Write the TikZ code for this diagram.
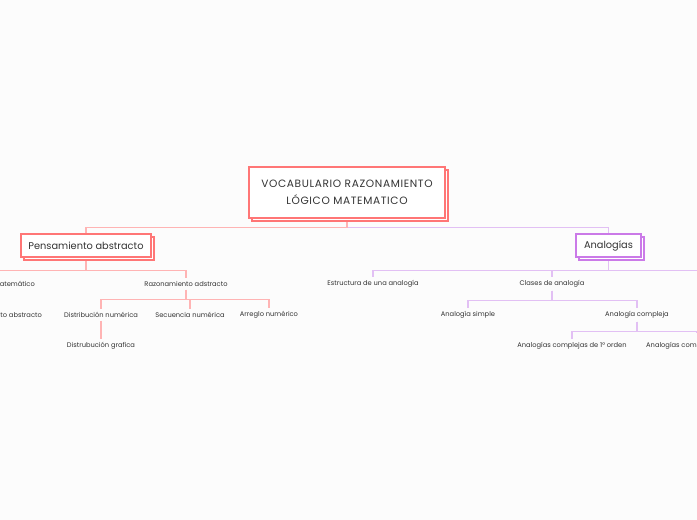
\documentclass[tikz,border=0pt]{standalone}
\usepackage{fontspec}
\setmainfont{Poppins}
\newfontfamily\rootfont[LetterSpace=6]{Poppins}
\usetikzlibrary{shadows,backgrounds}
\definecolor{rootred}{RGB}{255,118,118}
\definecolor{linered}{RGB}{255,180,180}
\definecolor{boxpurple}{RGB}{203,122,232}
\definecolor{linepurple}{RGB}{226,192,244}
\definecolor{inkgray}{RGB}{51,51,51}
\definecolor{paper}{RGB}{252,252,252}

\begin{document}
\begin{tikzpicture}[x=1pt,y=-1pt,
    topic/.style={draw=#1,fill=white,line width=1.2pt,inner sep=0pt,text=inkgray,
      copy shadow={shadow xshift=3pt,shadow yshift=-3pt}},
    leaf/.style={font=\fontsize{6.7}{7.5}\selectfont,text=inkgray,inner sep=3pt},
    bus/.style={to path={-- ++(0,#1) -| (\tikztotarget)}}]
    \useasboundingbox (0,0) rectangle (697,520);
    \node (1) [topic=rootred,minimum width=196pt,minimum height=51pt,align=center,font=\rootfont\fontsize{10.6}{17}\selectfont] at (347,192.5) {\raisebox{-2pt}{VOCABULARIO RAZONAMIENTO}\\\raisebox{-2pt}{LÓGICO MATEMATICO}};
    \node (2) [topic=rootred,minimum width=130pt,minimum height=23pt,font=\fontsize{9.8}{10}\selectfont] at (86,245.5) {Pensamiento abstracto};
    \node (3) [topic=boxpurple,minimum width=65pt,minimum height=23pt,font=\fontsize{9.8}{10}\selectfont] at (608.5,245.5) {Analogías};

    \node (4) [leaf,anchor=east] at (38,284) {atemático};
    \node (5) [leaf] at (186,284) {Razonamiento adstracto};
    \node (6) [leaf,anchor=east] at (45,315) {to abstracto};
    \node (7) [leaf] at (101,315) {Distribución numérica};
    \node (8) [leaf] at (190,315) {Secuencia numérica};
    \node (9) [leaf] at (269,315) {Arreglo numérico};
    \node (10) [leaf] at (101,346) {Distrubución grafica};

    \node (11) [leaf] at (373,284) {Estructura de una analogía};
    \node (12) [leaf] at (552,284) {Clases de analogía};
    \node (13) [leaf] at (468,315) {Analogía simple};
    \node (14) [leaf] at (637,315) {Analogía compleja};
    \node (15) [leaf] at (572,346) {Analogías complejas de 1° orden};
    \node (16) [leaf,anchor=west] at (643,346) {Analogías comp};

    \coordinate (e1) at (0,270);
    \coordinate (e2) at (697,270);
    \coordinate (e3) at (697,332);

    \begin{pgfonlayer}{background}
    \fill[paper] (0,0) rectangle (697,520);
    \path[linepurple,line width=1.4pt]
    (1.south) edge [bus=9] (3.north)
    (3.south) edge [bus=13] (e2)
    (3.south) edge [bus=13] (11.north)
    (3.south) edge [bus=13] (12.north)
    (12.south) edge [bus=10] (13.north)
    (12.south) edge [bus=10] (14.north)
    (14.south) edge [bus=10] (15.north)
    (14.south) edge [bus=10] (e3);
    \path[linered,line width=1.4pt]
    (1.south) edge [bus=9] (2.north)
    (2.south) edge [bus=13] (e1)
    (2.south) edge [bus=13] (5.north)
    (5.south) edge [bus=10] (7.north)
    (5.south) edge [bus=10] (8.north)
    (5.south) edge [bus=10] (9.north)
    (7) edge (10);
    \end{pgfonlayer}
\end{tikzpicture}
\end{document}
